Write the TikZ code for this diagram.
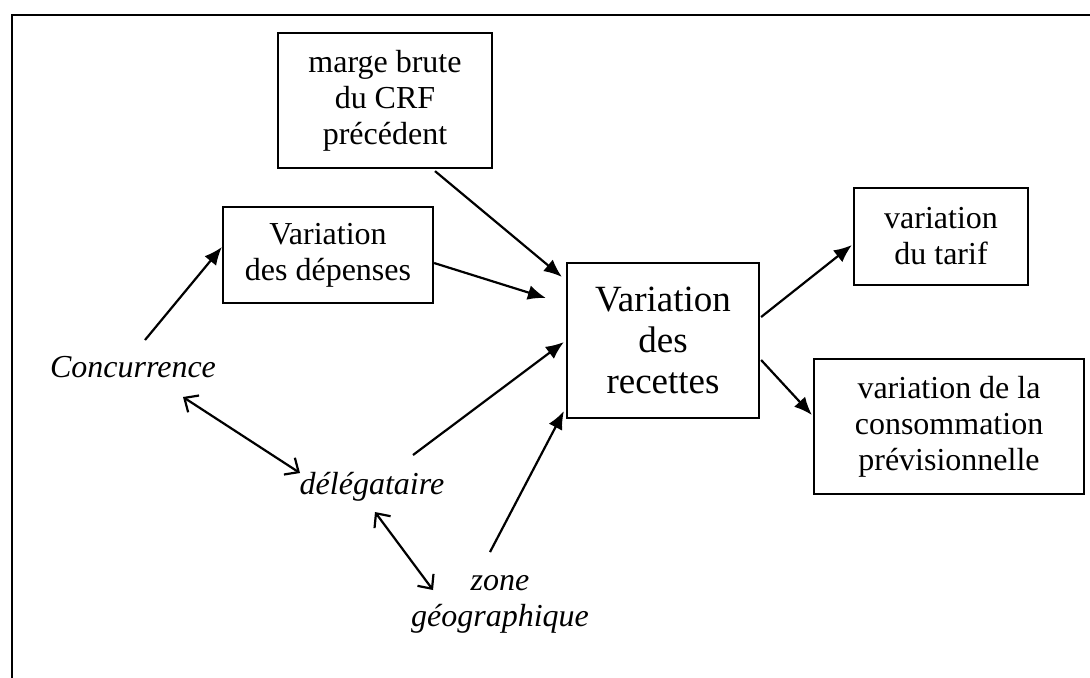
\documentclass[tikz,border=0pt]{standalone}
\usepackage{fontspec}
\setmainfont{Liberation Serif}
\usetikzlibrary{arrows.meta}

\begin{document}
\begin{tikzpicture}[x={(0.5pt, 0pt)}, y={(0pt, -0.5pt)},
    boite/.style={draw, line width=1.1pt, align=center, inner sep=0pt,
      font=\fontsize{16}{18}\selectfont},
    mot/.style={align=center, inner sep=0pt, font=\fontsize{16}{18}\selectfont\itshape},
    fleche/.style={line width=1.1pt, -{Latex[length=9pt, width=7.5pt]}},
    lien/.style={line width=1.1pt,
      {Straight Barb[length=5.5pt, width=10pt]}-{Straight Barb[length=5.5pt, width=10pt]}}]
  \useasboundingbox (0, 0) rectangle (1090, 677);
  % cadre
  \draw[line width=1.4pt] (12, 700) to (12, 15) to (1110, 15);

  % boites
  \node[boite, minimum width=107pt, minimum height=67.5pt] (marge) at (385, 100.5)
    {marge brute\\du CRF\\précédent};
  \node[boite, minimum width=105pt, minimum height=48pt] (dep) at (328, 255)
    {Variation\\des dépenses};
  \node[boite, minimum width=96pt, minimum height=77.5pt,
        font=\fontsize{18.5}{20.5}\selectfont] (rec) at (663, 340.5)
    {Variation\\des\\recettes};
  \node[boite, minimum width=87pt, minimum height=48.5pt] (tarif) at (941, 236.5)
    {variation\\du tarif};
  \node[boite, minimum width=135pt, minimum height=67.5pt] (conso) at (949, 426.5)
    {variation de la\\consommation\\prévisionnelle};

  % facteurs
  \node[mot] (conc) at (133, 367) {Concurrence};
  \node[mot] (del) at (372, 487) {délégataire};
  \node[mot] (zone) at (500, 604) {zone\\géographique};

  % fleches
  \draw[fleche] ([shift={(12, -27)}]conc.center) to ([shift={(0, -8)}]dep.west);
  \draw[fleche] ([shift={(0, 8)}]dep.east) to ([shift={(-20, -42.5)}]rec.west);
  \draw[fleche] ([shift={(50, 2)}]marge.south) to ([shift={(-4, 15)}]rec.north west);
  \draw[fleche] ([shift={(41, -32)}]del.center) to ([shift={(-2, 1.5)}]rec.west);
  \draw[fleche] ([shift={(-10, -52)}]zone.center) to ([shift={(-2, -8)}]rec.south west);
  \draw[fleche] ([shift={(1, -23.5)}]rec.east) to ([shift={(-1, 8.5)}]tarif.west);
  \draw[fleche] ([shift={(1, 19.5)}]rec.east) to ([shift={(-1, -11.5)}]conso.west);
  \draw[lien] ([shift={(50, 30)}]conc.center) to ([shift={(-72, -14)}]del.center);
  \draw[lien] ([shift={(3, 25)}]del.center) to ([shift={(-67, -14)}]zone.center);
\end{tikzpicture}
\end{document}
